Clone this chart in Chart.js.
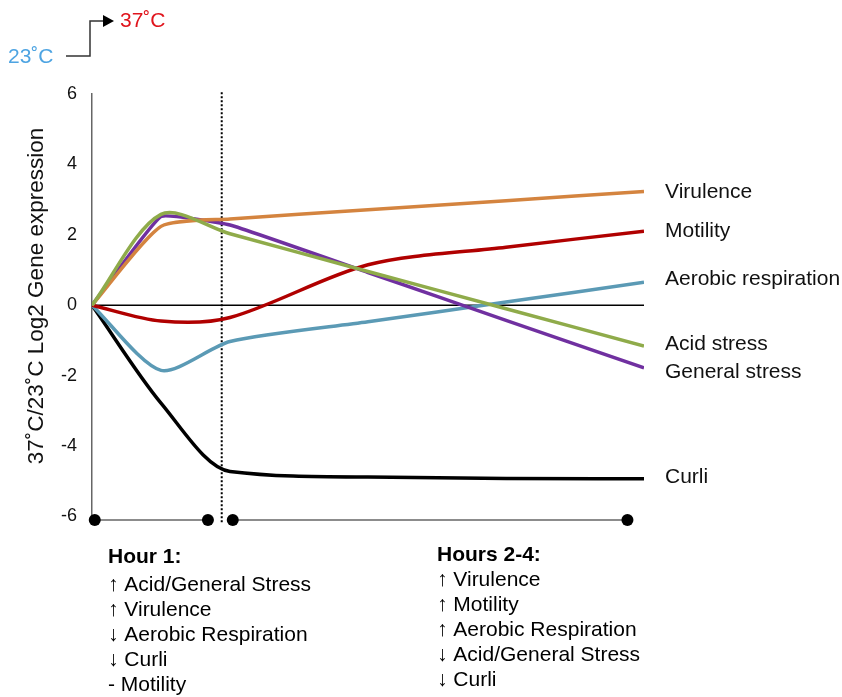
<!DOCTYPE html>
<html>
<head>
<meta charset="utf-8">
<script src="https://cdn.jsdelivr.net/npm/chart.js@4.4.1/dist/chart.umd.min.js"></script>
<style>
  html, body { margin: 0; padding: 0; background: #ffffff; }
  #wrap { width: 842px; height: 697px; position: relative; }
</style>
</head>
<body>
<div id="wrap"><canvas id="c" width="842" height="697"></canvas></div>
<script>
// ---- data ----
const timeHours   = [0, 0.5, 1, 2, 3, 4];
const virulence   = [0, 2.24, 2.45, 2.71, 2.97, 3.23];
const motility    = [0, -0.45, -0.35, 1.15, 1.65, 2.1];
const aerobicResp = [0, -1.85, -1.03, -0.47, 0.09, 0.65];
const acidStress  = [0, 2.58, 2.03, 0.96, -0.1, -1.16];
const genStress   = [0, 2.52, 2.28, 0.93, -0.43, -1.78];
const curli       = [0, -2.78, -4.72, -4.88, -4.92, -4.93];

const seriesNames = ["Virulence", "Motility", "Aerobic respiration", "Acid stress", "General stress", "Curli"];
const yTicks = [-6, -4, -2, 0, 2, 4, 6];
const yTitle = "37˚C/23˚C Log2 Gene expression";

// timeline annotation (hours) and dotted marker
const hour1Span  = [0.02, 0.84];
const hours24Span = [1.02, 3.88];
const timelineLevel = -6.1;
const dividerHour = 0.94;

const hour1Lines = ["↑ Acid/General Stress", "↑ Virulence", "↓ Aerobic Respiration", "↓ Curli", "- Motility"];
const hours24Lines = ["↑ Virulence", "↑ Motility", "↑ Aerobic Respiration", "↓ Acid/General Stress", "↓ Curli"];

// ---- styles ----
const colors = {
  "Virulence": "#d4843f",
  "Motility": "#b00000",
  "Aerobic respiration": "#5b9ab5",
  "Acid stress": "#8fab4a",
  "General stress": "#7030a0",
  "Curli": "#000000"
};
const tensions = { "Virulence": 0.2, "Motility": 0.3, "Aerobic respiration": 0.25, "Acid stress": 0.3, "General stress": 0.1, "Curli": 0 };
const drawOrder = { "Acid stress": 0, "Virulence": 1, "General stress": 2, "Motility": 3, "Aerobic respiration": 4, "Curli": 5 };
const labelOffset = { "Virulence": 1, "Motility": 0, "Aerobic respiration": -3, "Acid stress": -2, "General stress": 4, "Curli": -2 };

const values = [virulence, motility, aerobicResp, acidStress, genStress, curli];
const toXY = arr => arr.map((v, i) => ({ x: timeHours[i], y: v }));

const FONT = '"Liberation Sans", Arial, Helvetica, sans-serif';

const datasets = seriesNames.map((name, k) => ({
  label: name,
  data: toXY(values[k]),
  borderColor: colors[name],
  backgroundColor: colors[name],
  borderWidth: 3.5,
  pointRadius: 0,
  tension: tensions[name],
  cubicInterpolationMode: name === "Curli" ? 'monotone' : 'default',
  fill: false,
  order: drawOrder[name],
  borderCapStyle: 'butt'
}));

// zero line
datasets.push({
  label: "zero", data: [{x: timeHours[0], y: 0}, {x: timeHours[timeHours.length - 1], y: 0}],
  borderColor: "#000", borderWidth: 1.3, pointRadius: 0, order: 20, tension: 0
});
// dotted divider
datasets.push({
  label: "divider", data: [{x: dividerHour, y: 6.05}, {x: dividerHour, y: -6.2}],
  borderColor: "#000", borderWidth: 2, borderDash: [2, 2], pointRadius: 0, order: 21, tension: 0, clip: false
});
// timelines
[hour1Span, hours24Span].forEach((span, i) => {
  datasets.push({
    label: "timeline" + i, data: span.map(x => ({ x: x, y: timelineLevel })),
    borderColor: "#666", borderWidth: 1.5, pointRadius: 6, pointHoverRadius: 6,
    pointBackgroundColor: "#000", pointBorderColor: "#000", pointBorderWidth: 0,
    order: 22, tension: 0, clip: false
  });
});

const annotate = {
  id: 'annotate',
  afterDraw(chart) {
    const ctx = chart.ctx;
    const ys = chart.scales.y;
    const xs = chart.scales.x;
    ctx.save();
    // y-axis title
    ctx.save();
    ctx.translate(37, 296);
    ctx.rotate(-Math.PI / 2);
    ctx.font = '22.5px ' + FONT;
    ctx.fillStyle = '#111';
    ctx.textAlign = 'center';
    ctx.textBaseline = 'middle';
    ctx.fillText(yTitle, 0, 0);
    ctx.restore();

    // temperature shift annotation
    ctx.font = '21px ' + FONT;
    ctx.textBaseline = 'middle';
    ctx.textAlign = 'left';
    ctx.fillStyle = '#4ea4e2';
    ctx.fillText('23˚C', 8, 57);
    ctx.fillStyle = '#e0141c';
    ctx.fillText('37˚C', 120, 21);
    ctx.strokeStyle = '#333';
    ctx.lineWidth = 1.5;
    ctx.beginPath();
    ctx.moveTo(66, 56); ctx.lineTo(90, 56); ctx.lineTo(90, 21); ctx.lineTo(104, 21);
    ctx.stroke();
    ctx.fillStyle = '#000';
    ctx.beginPath();
    ctx.moveTo(103, 15); ctx.lineTo(114, 21); ctx.lineTo(103, 27); ctx.closePath();
    ctx.fill();

    // series labels at line ends
    ctx.font = '21px ' + FONT;
    ctx.fillStyle = '#111';
    ctx.textAlign = 'left';
    seriesNames.forEach((name, k) => {
      const last = values[k][values[k].length - 1];
      const py = ys.getPixelForValue(last) + labelOffset[name];
      ctx.fillText(name, xs.getPixelForValue(timeHours[timeHours.length - 1]) + 21, py);
    });

    // period summaries
    ctx.fillStyle = '#000';
    ctx.font = 'bold 21px ' + FONT;
    ctx.fillText('Hour 1:', 108, 557);
    ctx.fillText('Hours 2-4:', 437, 555);
    ctx.font = '21px ' + FONT;
    hour1Lines.forEach((t, i) => ctx.fillText(t, 108, 585 + i * 25));
    hours24Lines.forEach((t, i) => ctx.fillText(t, 437, 580 + i * 25));
    ctx.restore();
  }
};

new Chart(document.getElementById('c'), {
  type: 'line',
  data: { datasets: datasets },
  options: {
    responsive: false,
    animation: false,
    events: [],
    layout: { padding: { left: 0, right: 198, top: 94, bottom: 177 } },
    plugins: { legend: { display: false }, tooltip: { enabled: false } },
    scales: {
      x: { type: 'linear', min: 0, max: 4, display: false },
      y: {
        type: 'linear', min: timelineLevel, max: 6,
        afterBuildTicks: s => { s.ticks = yTicks.map(v => ({ value: v })); },
        afterFit: s => { s.width = 92; },
        grid: { display: false, drawTicks: false },
        border: { display: true, color: '#666', width: 1.5 },
        ticks: { font: { family: FONT, size: 18 }, color: '#111', padding: 15 }
      }
    }
  },
  plugins: [annotate]
});
</script>
</body>
</html>
